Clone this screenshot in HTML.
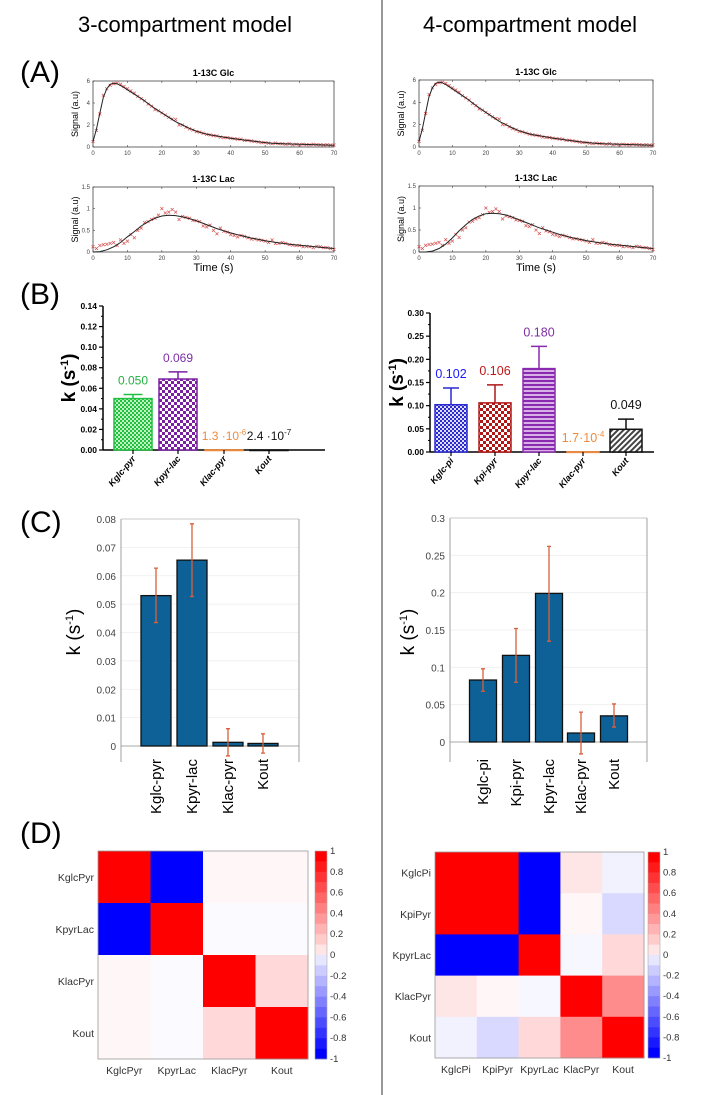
<!DOCTYPE html>
<html><head><meta charset="utf-8"><style>
html,body{margin:0;padding:0;background:#fff;}
svg{display:block;font-family:"Liberation Sans",sans-serif;}
</style></head><body>
<svg id="fig" width="715" height="1095" viewBox="0 0 715 1095" xmlns="http://www.w3.org/2000/svg">
<defs>
<pattern id="pGreen" width="4" height="4" patternUnits="userSpaceOnUse"><rect width="4" height="4" fill="#bff0bf"/><rect width="2" height="2" fill="#22c040"/><rect x="2" y="2" width="2" height="2" fill="#22c040"/></pattern>
<pattern id="pPurple" width="6" height="6" patternUnits="userSpaceOnUse"><rect width="6" height="6" fill="#fff"/><rect width="3" height="3" fill="#7a1fa2"/><rect x="3" y="3" width="3" height="3" fill="#7a1fa2"/></pattern>
<pattern id="pBlue" width="4" height="4" patternUnits="userSpaceOnUse"><rect width="4" height="4" fill="#dde"/><rect width="2" height="2" fill="#2a2ad0"/><rect x="2" y="2" width="2" height="2" fill="#2a2ad0"/></pattern>
<pattern id="pRed" width="6" height="6" patternUnits="userSpaceOnUse"><rect width="6" height="6" fill="#fff"/><rect width="3" height="3" fill="#b01818"/><rect x="3" y="3" width="3" height="3" fill="#b01818"/></pattern>
<pattern id="pStripe" width="4" height="4" patternUnits="userSpaceOnUse"><rect width="4" height="4" fill="#d7b0e6"/><rect width="4" height="2" fill="#8a2ab0"/></pattern>
<pattern id="pHatch" width="4" height="4" patternUnits="userSpaceOnUse" patternTransform="rotate(45)"><rect width="4" height="4" fill="#fff"/><rect width="2" height="4" fill="#444"/></pattern>
</defs>
<line x1="382" y1="0" x2="382" y2="1095" stroke="#555" stroke-width="1.2"/>
<text x="185" y="32" font-size="22" text-anchor="middle">3-compartment model</text>
<text x="530" y="32" font-size="22" text-anchor="middle">4-compartment model</text>
<text x="20" y="82" font-size="30">(A)</text>
<text x="20" y="304" font-size="30">(B)</text>
<text x="20" y="532" font-size="30">(C)</text>
<text x="20" y="843" font-size="30">(D)</text>
</svg>
<script>
// ---------- Panel A data ----------
const timeTicks = [0,10,20,30,40,50,60,70];
const glcTicks = [0,2,4,6];
const lacTicks = [0,0.5,1,1.5];
const glcData = [0.5,1.5,3.0,4.7,5.3,5.6,5.75,5.8,5.7,5.5,5.3,5.1,4.9,4.6,4.4,4.2,3.9,3.7,3.4,3.3,3.1,2.9,2.7,2.55,2.5,2.0,2.0,1.8,1.65,1.55,1.4,1.35,1.25,1.15,1.1,1.05,1.0,0.9,0.85,0.85,0.8,0.75,0.72,0.7,0.6,0.6,0.55,0.5,0.45,0.4,0.4,0.35,0.3,0.35,0.3,0.3,0.25,0.3,0.2,0.25,0.2,0.25,0.22,0.2,0.25,0.22,0.2,0.18,0.2,0.17,0.18];
const lacData = [0.12,0.08,0.15,0.17,0.18,0.2,0.22,0.15,0.28,0.2,0.25,0.4,0.33,0.5,0.55,0.68,0.7,0.75,0.78,0.85,1.0,0.9,0.92,0.98,0.92,0.75,0.82,0.8,0.78,0.73,0.72,0.7,0.6,0.58,0.62,0.5,0.42,0.55,0.48,0.46,0.4,0.38,0.35,0.38,0.36,0.33,0.3,0.3,0.28,0.27,0.25,0.22,0.28,0.2,0.2,0.22,0.2,0.17,0.16,0.15,0.15,0.12,0.13,0.12,0.1,0.13,0.12,0.1,0.1,0.08,0.06];
const glcFitT = [0,1,2,3,4,5,6,7,8,9,10,12,14,16,18,20,22,24,26,28,30,32,34,36,38,40,42,44,46,48,50,52,55,60,65,70];
const glcFitL = [0.5,1.6,3.1,4.5,5.3,5.7,5.8,5.75,5.6,5.4,5.2,4.8,4.4,3.95,3.5,3.1,2.7,2.3,2.0,1.7,1.45,1.25,1.1,1.0,0.9,0.8,0.72,0.63,0.55,0.47,0.4,0.35,0.3,0.25,0.2,0.15];
const glcFitR = [0.5,1.6,3.1,4.5,5.3,5.7,5.8,5.75,5.6,5.4,5.2,4.8,4.4,3.95,3.5,3.1,2.7,2.3,2.0,1.7,1.45,1.25,1.1,1.0,0.9,0.8,0.72,0.63,0.55,0.47,0.4,0.35,0.3,0.25,0.2,0.15];
const lacFitT = [0,2,4,6,8,10,12,14,16,18,20,22,24,26,28,30,32,34,36,38,40,42,44,46,48,50,54,58,62,66,70];
const lacFitL = [0,0.01,0.05,0.12,0.22,0.35,0.47,0.6,0.7,0.78,0.83,0.85,0.84,0.81,0.77,0.72,0.66,0.6,0.54,0.49,0.44,0.4,0.36,0.32,0.29,0.26,0.21,0.17,0.14,0.11,0.08];
const lacFitR = [0,0,0.02,0.08,0.18,0.32,0.48,0.62,0.74,0.82,0.87,0.88,0.87,0.84,0.79,0.73,0.67,0.61,0.55,0.5,0.45,0.4,0.36,0.32,0.29,0.26,0.21,0.17,0.14,0.11,0.08];

// ---------- Panel B data ----------
const bLeftCats = ["Kglc-pyr","Kpyr-lac","Klac-pyr","Kout"];
const bLeftVals = [0.050,0.069,0.0000013,0.00000024];
const bLeftErr = [0.004,0.007,0,0];
const bLeftLabels = ["0.050","0.069","1.3 ·10","2.4 ·10"];
const bLeftSup = ["","","-6","-7"];
const bLeftTicks = [0,0.02,0.04,0.06,0.08,0.10,0.12,0.14];
const bRightCats = ["Kglc-pi","Kpi-pyr","Kpyr-lac","Klac-pyr","Kout"];
const bRightVals = [0.102,0.106,0.180,0.00017,0.049];
const bRightErr = [0.036,0.039,0.048,0,0.022];
const bRightLabels = ["0.102","0.106","0.180","1.7·10","0.049"];
const bRightSup = ["","","","-4",""];
const bRightTicks = [0,0.05,0.10,0.15,0.20,0.25,0.30];

// ---------- Panel C data ----------
const cLeftCats = ["Kglc-pyr","Kpyr-lac","Klac-pyr","Kout"];
const cLeftVals = [0.053,0.0655,0.0013,0.0009];
const cLeftLo = [0.0435,0.0527,-0.0035,-0.0025];
const cLeftHi = [0.0627,0.0783,0.0061,0.0043];
const cLeftTicks = [0,0.01,0.02,0.03,0.04,0.05,0.06,0.07,0.08];
const cRightCats = ["Kglc-pi","Kpi-pyr","Kpyr-lac","Klac-pyr","Kout"];
const cRightVals = [0.083,0.116,0.199,0.012,0.035];
const cRightLo = [0.068,0.080,0.135,-0.016,0.020];
const cRightHi = [0.098,0.152,0.262,0.040,0.051];
const cRightTicks = [0,0.05,0.1,0.15,0.2,0.25,0.3];

// ---------- Panel D data ----------
const dLeftNames = ["KglcPyr","KpyrLac","KlacPyr","Kout"];
const dLeftRow1 = [1,-1,0.03,0.03];
const dLeftRow2 = [-1,1,-0.02,-0.02];
const dLeftRow3 = [0.03,-0.02,1,0.15];
const dLeftRow4 = [0.03,-0.02,0.15,1];
const dRightNames = ["KglcPi","KpiPyr","KpyrLac","KlacPyr","Kout"];
const dRightRow1 = [1,1,-1,0.1,-0.05];
const dRightRow2 = [1,1,-1,0.03,-0.15];
const dRightRow3 = [-1,-1,1,-0.03,0.15];
const dRightRow4 = [0.1,0.03,-0.03,1,0.45];
const dRightRow5 = [-0.05,-0.15,0.15,0.45,1];
const cbTicks = [1,0.8,0.6,0.4,0.2,0,-0.2,-0.4,-0.6,-0.8,-1];

const NS = "http://www.w3.org/2000/svg";
const svg = document.getElementById("fig");
function mk(tag, attrs, parent){
  const e = document.createElementNS(NS, tag);
  for (const k in attrs) e.setAttribute(k, attrs[k]);
  (parent||svg).appendChild(e);
  return e;
}

// ---------- Panel A ----------
function signalPlot(x0,x1,y0,y1,yMax,yTicks,fitT,fitV,data,title,showTime,side){
  const g = mk("g",{});
  
  
  const sx = t => x0 + (t/70)*(x1-x0);
  const sy = v => y1 - (v/yMax)*(y1-y0);
  const box = mk("rect",{x:x0,y:y0,width:x1-x0,height:y1-y0,fill:"#fff",stroke:"#444","stroke-width":0.8},g);
  
  
  timeTicks.forEach(t=>{
    mk("line",{x1:sx(t),x2:sx(t),y1:y1,y2:y1-2,stroke:"#444","stroke-width":0.6},g);
    mk("line",{x1:sx(t),x2:sx(t),y1:y0,y2:y0+2,stroke:"#444","stroke-width":0.6},g);
    const tl = mk("text",{x:sx(t),y:y1+8,"font-size":6,"text-anchor":"middle",fill:"#444"},g);
    tl.textContent = t;
    
    
  });
  yTicks.forEach(v=>{
    mk("line",{x1:x0,x2:x0+2,y1:sy(v),y2:sy(v),stroke:"#444","stroke-width":0.6},g);
    const tl = mk("text",{x:x0-3,y:sy(v)+2,"font-size":6,"text-anchor":"end",fill:"#444"},g);
    tl.textContent = v;
    
    
  });
  data.forEach((v,i)=>{
    const cx = sx(i), cy = sy(v);
    const p = mk("path",{d:`M${cx-1.5},${cy-1.5}L${cx+1.5},${cy+1.5}M${cx-1.5},${cy+1.5}L${cx+1.5},${cy-1.5}`,stroke:"#d85050","stroke-width":0.7,fill:"none"},g);
    
    
  });
  let d = "";
  fitT.forEach((t,i)=>{ d += (i?"L":"M")+sx(t).toFixed(1)+","+sy(fitV[i]).toFixed(1); });
  const line = mk("path",{d:d,stroke:"#222","stroke-width":1,fill:"none"},g);
  
  
  const tt = mk("text",{x:(x0+x1)/2,y:y0-5,"font-size":9,"font-weight":"bold","text-anchor":"middle"},g);
  tt.textContent = title;
  
  
  const yl = mk("text",{x:0,y:0,"font-size":9,"text-anchor":"middle",transform:`translate(${x0-15},${(y0+y1)/2}) rotate(-90)`},g);
  yl.textContent = "Signal (a.u)";
  
  
  if (showTime){
    const xl = mk("text",{x:(x0+x1)/2,y:y1+19,"font-size":11,"text-anchor":"middle"},g);
    xl.textContent = "Time (s)";
    
    
  }
}
signalPlot(93,334,81,147,6,glcTicks,glcFitT,glcFitL,glcData,"1-13C Glc",false,"left-glc");
signalPlot(93,334,187,252,1.5,lacTicks,lacFitT,lacFitL,lacData,"1-13C Lac",true,"left-lac");
signalPlot(419,653,80,147,6,glcTicks,glcFitT,glcFitR,glcData,"1-13C Glc",false,"right-glc");
signalPlot(419,653,186,252,1.5,lacTicks,lacFitT,lacFitR,lacData,"1-13C Lac",true,"right-lac");

// ---------- Panel B ----------
function prismBars(side,ax,axEnd,yTop,yBase,yMax,ticks,cats,vals,errs,labels,sups,centers,bw,fills,strokes,labColors,yLabX,labFont){
  const g = mk("g",{});
  
  
  const sy = v => yBase - (v/yMax)*(yBase-yTop);
  mk("line",{x1:ax,x2:ax,y1:yTop,y2:yBase,stroke:"#000","stroke-width":1.5},g);
  mk("line",{x1:ax,x2:axEnd,y1:yBase,y2:yBase,stroke:"#000","stroke-width":1.5},g);
  ticks.forEach((v,i)=>{
    mk("line",{x1:ax-4,x2:ax,y1:sy(v),y2:sy(v),stroke:"#000","stroke-width":1.2},g);
    if (i<ticks.length-1) mk("line",{x1:ax-2,x2:ax,y1:sy((v+ticks[i+1])/2),y2:sy((v+ticks[i+1])/2),stroke:"#000","stroke-width":1},g);
    const t = mk("text",{x:ax-6,y:sy(v)+3,"font-size":8.5,"font-weight":"bold","text-anchor":"end"},g);
    t.textContent = v.toFixed(2);
    
    
  });
  cats.forEach((c,i)=>{
    const cx = centers[i];
    const top = sy(vals[i]);
    const r = mk("rect",{x:cx-bw/2,y:top,width:bw,height:Math.max(yBase-top,0.5),fill:fills[i],stroke:strokes[i],"stroke-width":1.5},g);
    
    
    if (errs[i]>0){
      const et = sy(vals[i]+errs[i]);
      const e = mk("path",{d:`M${cx},${top}L${cx},${et}M${cx-bw/4},${et}L${cx+bw/4},${et}`,stroke:strokes[i],"stroke-width":1.5,fill:"none"},g);
      
      
    }
    mk("line",{x1:cx,x2:cx,y1:yBase,y2:yBase+4,stroke:"#000","stroke-width":1.2},g);
    const ly = errs[i]>0 ? sy(vals[i]+errs[i])-10 : yBase-10;
    const lt = mk("text",{x:cx,y:ly,"font-size":labFont,"text-anchor":"middle",fill:labColors[i]},g);
    lt.textContent = labels[i];
    if (sups[i]){
      const s = mk("tspan",{"font-size":8,dy:-5},lt);
      s.textContent = sups[i];
    }
    
    
    const xl = mk("text",{x:0,y:0,"font-size":9,"font-weight":"bold","font-style":"italic","text-anchor":"end",transform:`translate(${cx+3},${yBase+9}) rotate(-50)`},g);
    xl.textContent = c;
    
    
  });
  const yl = mk("text",{x:0,y:0,"font-size":19,"font-weight":"bold","text-anchor":"middle",transform:`translate(${yLabX},${(yTop+yBase)/2}) rotate(-90)`},g);
  yl.textContent = "k (s";
  const sp = mk("tspan",{"font-size":11,dy:-7},yl); sp.textContent = "-1";
  const sp2 = mk("tspan",{dy:7},yl); sp2.textContent = ")";
  
  
}
prismBars("left",103,325,306,450,0.14,bLeftTicks,bLeftCats,bLeftVals,bLeftErr,bLeftLabels,bLeftSup,
  [133,178,224,269],38,["url(#pGreen)","url(#pPurple)","#f4a060","#333"],["#22c040","#7a1fa2","#f08a3c","#111"],
  ["#22b040","#7a30a8","#f08a3c","#111"],75,12);
prismBars("right",430,654,313,452,0.30,bRightTicks,bRightCats,bRightVals,bRightErr,bRightLabels,bRightSup,
  [451,495,539,583,626],32,["url(#pBlue)","url(#pRed)","url(#pStripe)","#f4a060","url(#pHatch)"],["#2a2ad0","#b01818","#8a2ab0","#f08a3c","#111"],
  ["#1a1aff","#c01818","#8030a8","#f08a3c","#111"],403,12.5);

// ---------- Panel C ----------
function ciBars(side,x0,x1,yTop,yBase,yBot,yMax,ticks,cats,vals,lo,hi,centers,bw,yLabX){
  const g = mk("g",{});
  
  
  const sy = v => yBase - (v/yMax)*(yBase-yTop);
  ticks.forEach(v=>{
    mk("line",{x1:x0,x2:x1,y1:sy(v),y2:sy(v),stroke:v===0?"#aaa":"#eee","stroke-width":v===0?1:0.8},g);
    const t = mk("text",{x:x0-5,y:sy(v)+4,"font-size":10,"text-anchor":"end",fill:"#444"},g);
    t.textContent = v===0 ? "0" : String(v);
    
    
  });
  mk("line",{x1:x0,x2:x0,y1:yTop,y2:yBot,stroke:"#888","stroke-width":0.8},g);
  mk("line",{x1:x1,x2:x1,y1:yTop,y2:yBot,stroke:"#888","stroke-width":0.8},g);
  mk("line",{x1:x0,x2:x1,y1:yTop,y2:yTop,stroke:"#bbb","stroke-width":0.8},g);
  cats.forEach((c,i)=>{
    const cx = centers[i];
    const top = sy(vals[i]);
    const r = mk("rect",{x:cx-bw/2,y:top,width:bw,height:yBase-top,fill:"#0d6197",stroke:"#111","stroke-width":1.3},g);
    
    
    const a = sy(hi[i]), b = sy(lo[i]);
    const e = mk("path",{d:`M${cx},${a}L${cx},${b}M${cx-2},${a}L${cx+2},${a}M${cx-2},${b}L${cx+2},${b}`,stroke:"#d9603b","stroke-width":1.3,fill:"none"},g);
    
    
    const xl = mk("text",{x:0,y:0,"font-size":15,"text-anchor":"end",transform:`translate(${cx+5},${yBot-3}) rotate(-90)`},g);
    xl.textContent = c;
    
    
  });
  const yl = mk("text",{x:0,y:0,"font-size":19,"text-anchor":"middle",transform:`translate(${yLabX},${632}) rotate(-90)`},g);
  yl.textContent = "k (s";
  const sp = mk("tspan",{"font-size":11,dy:-7},yl); sp.textContent = "-1";
  const sp2 = mk("tspan",{dy:7},yl); sp2.textContent = ")";
  
  
}
ciBars("left",121,299,519,746,762,0.08,cLeftTicks,cLeftCats,cLeftVals,cLeftLo,cLeftHi,[156,192,228,263],30,80);
ciBars("right",450,647,518,742,762,0.3,cRightTicks,cRightCats,cRightVals,cRightLo,cRightHi,[483,516,549,581,614],27,414);

// ---------- Panel D ----------
function cmap(v){
  const q = Math.max(-1,Math.min(1,v));
  const a = Math.abs(q);
  const w = Math.round(255*(1-a));
  return q>=0 ? `rgb(255,${w},${w})` : `rgb(${w},${w},255)`;
}
function heatmap(side,x0,x1,y0,y1,names,rows,cbx){
  const g = mk("g",{});
  
  
  const n = names.length, cw = (x1-x0)/n, ch = (y1-y0)/n;
  rows.forEach((row,i)=>{
    row.forEach((v,j)=>{
      const r = mk("rect",{x:x0+j*cw,y:y0+i*ch,width:cw+0.5,height:ch+0.5,fill:cmap(v)},g);
      
      
    });
  });
  mk("rect",{x:x0,y:y0,width:x1-x0,height:y1-y0,fill:"none",stroke:"#999","stroke-width":0.8},g);
  names.forEach((nm,i)=>{
    const t = mk("text",{x:x0-4,y:y0+(i+0.5)*ch+4,"font-size":10.5,"text-anchor":"end",fill:"#333"},g);
    t.textContent = nm;
    
    
    const c = mk("text",{x:x0+(i+0.5)*cw,y:y1+15,"font-size":10.5,"text-anchor":"middle",fill:"#333"},g);
    c.textContent = nm;
    
    
  });
  const bh = (y1-y0)/20;
  for (let k=0;k<20;k++){
    const v = Math.round((1 - k*0.1)*10)/10;
    const r = mk("rect",{x:cbx,y:y0+k*bh,width:12,height:bh+0.3,fill:cmap(k<10 ? 1-k*0.1 : -(k-9)*0.1)},g);
    
    
  }
  mk("rect",{x:cbx,y:y0,width:12,height:y1-y0,fill:"none",stroke:"#aaa","stroke-width":0.6},g);
  cbTicks.forEach(v=>{
    const yy = y0 + (1-v)/2*(y1-y0);
    const t = mk("text",{x:cbx+15,y:yy+3,"font-size":9.5,fill:"#333"},g);
    t.textContent = String(v);
    
    
  });
}
heatmap("left",98,308,851,1059,dLeftNames,[dLeftRow1,dLeftRow2,dLeftRow3,dLeftRow4],315);
heatmap("right",435,644,852,1058,dRightNames,[dRightRow1,dRightRow2,dRightRow3,dRightRow4,dRightRow5],648);
</script>
</body></html>
